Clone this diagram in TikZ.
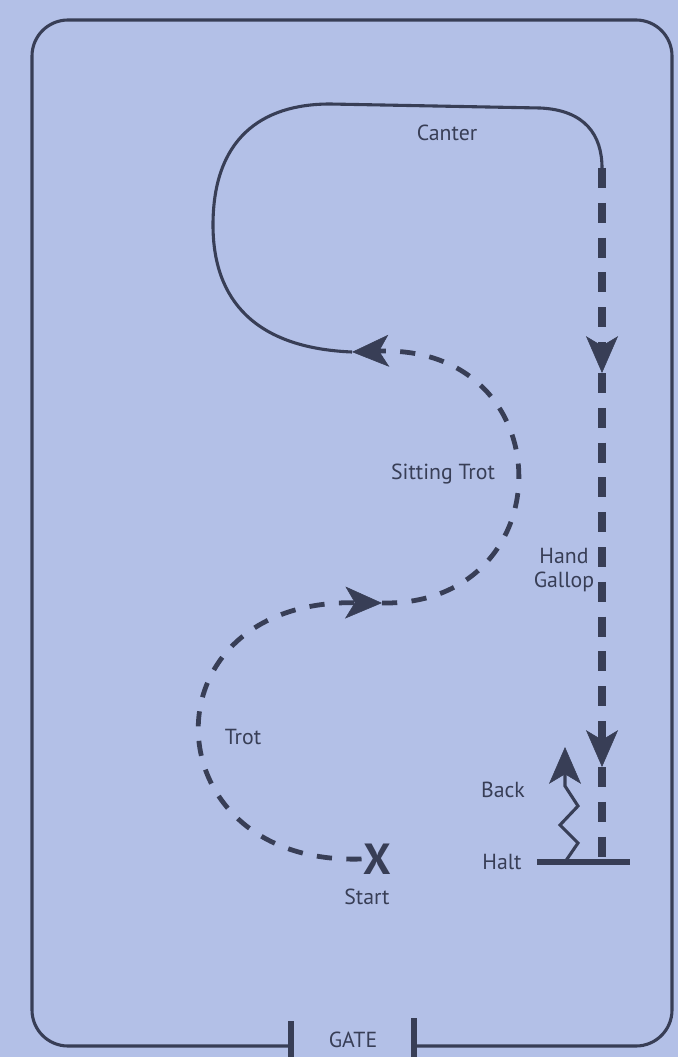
\documentclass[tikz,border=0pt]{standalone}
\usepackage{fontspec}
\setmainfont{PT Sans}
\usetikzlibrary{arrows.meta, positioning}
\definecolor{paper}{RGB}{179,192,231}
\definecolor{ink}{RGB}{56,62,86}

\begin{document}
\begin{tikzpicture}[
        x=0.025cm, y=-0.025cm,
        lbl/.style={text=ink, font=\fontsize{15.5}{17}\selectfont, inner sep=1pt},
        trail/.style={draw=ink, line width=2.2pt},
        trotline/.style={draw=ink, line width=3.4pt, dash pattern=on 0.38cm off 0.36cm},
        gallop/.style={draw=ink, line width=5.8pt, dash pattern=on 0.5cm off 0.37cm},
        tip/.style={-{Stealth[length=0.92cm, width=0.8cm, inset=0.24cm, line width=0.4pt]}},
        post/.style={draw=ink, line width=4.4pt}
    ]
        \fill[paper] (0,0) rectangle (678,1057);
        \useasboundingbox (0,0) rectangle (678,1057);

        % Arena fence and gate
        \coordinate (gl) at (291,1046);
        \coordinate (gr) at (414,1046);
        \draw[trail, rounded corners=0.9cm] (gl) -| (32,20) -| (672,1046) -- (gr);
        \draw[post] (291,1021) -- (291,1057);
        \draw[post] (414,1018) -- (414,1057);
        \node[lbl] (gate) at (353,1040) {GATE};

        % Trot
        \node[text=ink, font=\bfseries\fontsize{31}{33}\selectfont, inner sep=1pt] (xmark) at (377,859) {X};
        \node[lbl] (start) at (367,897) {Start};
        \coordinate (ta) at (382,603);
        \draw[trotline, tip] (xmark.west) .. controls (150,866) and (140,600) .. (ta);
        \node[lbl] (trot) at (243,737) {Trot};

        % Sitting trot
        \coordinate (c0) at (352,352);
        \draw[trotline, tip] (ta) .. controls (565,606) and (565,345) .. (c0);
        \node[lbl] (sittrot) at (443,474) {Sitting Trot};

        % Canter
        \coordinate (g0) at (602,168);
        \draw[trail] (c0) .. controls (255,348) and (213,300) .. (213,225)
            .. controls (213,140) and (260,104) .. (330,104) -- (540,108)
            .. controls (585,110) and (602,135) .. (g0);
        \node[lbl] (canter) at (447,133) {Canter};

        % Hand gallop down to the halt
        \coordinate (g1) at (602,373);
        \coordinate (g2) at (602,767);
        \coordinate (hl) at (537,862);
        \coordinate (hr) at (630,862);
        \coordinate (gend) at (602,862);
        \draw[gallop, tip] (g0) -- (g1);
        \draw[gallop, tip] (g1) -- (g2);
        \draw[gallop] (g2) -- (gend);
        \draw[post] (hl) -- (hr);
        \node[lbl, align=center] (handgallop) at (564,570) {Hand\\Gallop};
        \node[lbl] (halt) at (502,862) {Halt};

        % Back
        \coordinate (bk0) at (565,862);
        \coordinate (bk1) at (565,747);
        \draw[trail, tip] (bk0) -- (578,843) -- (560,825) -- (578,806) -- (565,786) -- (bk1);
        \node[lbl] (back) at (503,790) {Back};
    \end{tikzpicture}
\end{document}
